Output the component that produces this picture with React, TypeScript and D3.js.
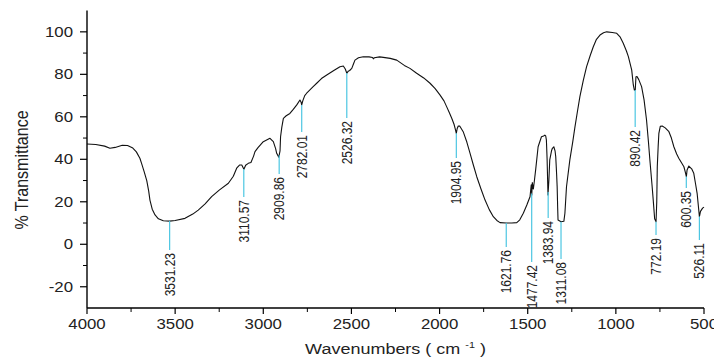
import * as d3 from 'd3';

// FTIR spectrum (wavenumber in cm-1, % transmittance)
const wavenumbers = [
  4000, 3950, 3900, 3870, 3840, 3800, 3770, 3740, 3720, 3700, 3690, 3675, 3661, 3650, 3643, 3630, 3614, 3595, 3567,
  3531, 3500, 3444, 3400, 3369, 3330, 3293, 3250, 3198, 3170, 3151, 3135, 3122, 3110, 3100, 3085, 3070, 3055, 3047,
  3030, 3000, 2962, 2943, 2930, 2924, 2912, 2905, 2902, 2895, 2886, 2870, 2849, 2830, 2810, 2792, 2786, 2782, 2776,
  2765, 2754, 2720, 2697, 2670, 2640, 2600, 2565, 2546, 2535, 2526, 2518, 2510, 2498, 2488, 2480, 2460, 2433, 2400,
  2380, 2376, 2370, 2340, 2319, 2280, 2243, 2200, 2168, 2130, 2090, 2054, 2025, 1998, 1975, 1960, 1945, 1931, 1918,
  1910, 1905, 1900, 1894, 1885, 1866, 1845, 1827, 1808, 1789, 1765, 1742, 1718, 1695, 1675, 1657, 1622, 1590, 1562,
  1545, 1525, 1505, 1487, 1480, 1477, 1474, 1468, 1462, 1455, 1441, 1422, 1410, 1403, 1398, 1394, 1390, 1385, 1380,
  1375, 1365, 1360, 1352, 1345, 1341, 1336, 1333, 1330, 1328, 1311, 1295, 1289, 1280, 1261, 1245, 1232, 1218, 1204,
  1185, 1166, 1145, 1128, 1110, 1090, 1070, 1052, 1020, 995, 975, 958, 940, 929, 910, 901, 895, 890, 886, 880, 870,
  854, 840, 826, 815, 807, 795, 788, 780, 772, 768, 765, 760, 756, 748, 737, 720, 699, 685, 671, 655, 643, 625, 614,
  606, 600, 596, 586, 570, 558, 548, 539, 532, 526, 520, 508, 500,
];
const transmittance = [
  47.2, 47.0, 46.2, 45.2, 45.6, 46.6, 46.5, 45.3, 43.5, 40.5, 38, 34, 30, 25, 20.8, 16.5, 13.8, 12, 11.1,
  10.9, 11.2, 12.2, 14.2, 16.1, 19, 22.4, 25.5, 28.7, 32, 35.8, 37.3, 37.3, 35.3, 37.2, 38.1, 38.5, 41.5, 43.6,
  45.5, 48.3, 49.9, 48.3, 45, 42.8, 41, 44, 50.6, 55, 59.3, 60.5, 61.6, 63.5, 65.6, 67.9, 67, 65.6, 67.5,
  70, 71.1, 74, 75.8, 78, 79.7, 81.8, 83.6, 83.9, 82.5, 80.5, 81.5, 81.8, 82.8, 85, 86.7, 87.8, 88.3, 88.2,
  87.9, 87.3, 87.8, 88.2, 88.0, 87.5, 86.7, 84.2, 82.8, 80.5, 78.3, 75.8, 73.3, 70.3, 67.5, 64.8, 62, 59.3, 56.5,
  54, 52.2, 54.5, 55.7, 55.6, 53, 48, 42.8, 37.2, 31.8, 26, 20.8, 16.3, 13, 11.2, 10.2, 10, 10, 10.2,
  11.5, 14.6, 18.5, 22.4, 28, 23.2, 29, 26, 30, 35, 45.9, 50.6, 51, 51.4, 51, 49, 40, 23.2, 30,
  39.7, 44, 45.2, 45.9, 44, 41.2, 33, 27.1, 17, 11.4, 10.6, 10.8, 14.6, 27.1, 39.7, 48, 55.3, 62.5, 69.5,
  77, 83.6, 89, 93, 96.5, 98.5, 99.6, 100, 99.7, 99.3, 97.5, 94.6, 91, 88.3, 82, 75, 72.5, 72.6, 78.9, 79, 77.5,
  74.2, 68, 58.5, 48, 39.7, 28, 20.8, 12, 10.6, 20, 36.5, 46, 52.2, 55.5, 55.7, 54.8, 53, 50, 45.9, 42.5, 40.5, 38, 36.5,
  34, 31.8, 35, 36.8, 35.5, 33.4, 28.5, 24, 18, 13, 15.5, 17, 17.5,
];

const peakLabels = [
  '3531.23', '3110.57', '2909.86', '2782.01', '2526.32', '1904.95', '1621.76',
  '1477.42', '1383.94', '1311.08', '890.42', '772.19', '600.35', '526.11',
];
// where each cyan leader stops (px), label starts just below
const leaderEnd = [250, 197, 174, 132, 118, 158, 247, 262, 218, 259, 127, 235, 188, 240];

const xTicks = [4000, 3500, 3000, 2500, 2000, 1500, 1000, 500];
const xMinor = [3750, 3250, 2750, 2250, 1750, 1250, 750];
const yTicks = [-20, 0, 20, 40, 60, 80, 100];
const yMinor = [-10, 10, 30, 50, 70, 90];

const FONT = '"Liberation Sans", Arial, Helvetica, sans-serif';
const STRETCH = 1.2; // the source picture is wider than tall
const CYAN = '#4cc6e2';

function valueAt(w: number) {
  for (let i = 0; i < wavenumbers.length - 1; i++) {
    const a = wavenumbers[i], b = wavenumbers[i + 1];
    if (w <= a && w >= b) {
      const t = (a - w) / (a - b);
      return transmittance[i] + t * (transmittance[i + 1] - transmittance[i]);
    }
  }
  return transmittance[transmittance.length - 1];
}

export default function App() {
  const x = d3.scaleLinear().domain([4000, 500]).range([87, 704]);
  const y = d3.scaleLinear().domain([-30, 110]).range([308, 10.6]);

  const line = d3.line<number>()
    .x((_, i) => x(wavenumbers[i]))
    .y((d) => y(d));

  const x0 = x.range()[0], x1 = x.range()[1];
  const y0 = y.range()[0], y1 = y.range()[1];

  return (
    <svg width={714} height={361} style={{ position: 'absolute', left: 0, top: 0, background: '#fff' }}
      fontFamily={FONT}>
      {/* spectrum */}
      <path d={line(transmittance) || ''} fill="none" stroke="#111" strokeWidth={1.1} strokeLinejoin="round" />

      {/* peak leaders and labels */}
      {peakLabels.map((lab, i) => {
        const w = +lab;
        const px = x(w);
        const top = y(valueAt(w));
        return (
          <g key={lab}>
            <line x1={px} x2={px} y1={top} y2={leaderEnd[i]} stroke={CYAN} strokeWidth={1.2} />
            <text transform={`translate(${px},${leaderEnd[i] + 3}) rotate(-90) scale(1,${STRETCH})`}
              textAnchor="end" dy="0.35em" fontSize={12} fill="#222">{lab}</text>
          </g>
        );
      })}

      {/* axes */}
      <line x1={x0} x2={x0} y1={y1} y2={y0} stroke="#000" strokeWidth={1.4} />
      <line x1={x0} x2={x1} y1={y0} y2={y0} stroke="#000" strokeWidth={1.4} />

      {yTicks.map((t) => (
        <g key={'y' + t}>
          <line x1={x0 - 7} x2={x0} y1={y(t)} y2={y(t)} stroke="#000" strokeWidth={1.2} />
          <text transform={`translate(${x0 - 14},${y(t)}) scale(${STRETCH},1)`} textAnchor="end" dy="0.36em"
            fontSize={14} fill="#222">{t}</text>
        </g>
      ))}
      {yMinor.map((t) => (
        <line key={'ym' + t} x1={x0 - 4} x2={x0} y1={y(t)} y2={y(t)} stroke="#000" strokeWidth={1} />
      ))}

      {xTicks.map((t) => (
        <g key={'x' + t}>
          <line x1={x(t)} x2={x(t)} y1={y0} y2={y0 + 6} stroke="#000" strokeWidth={1.2} />
          <text transform={`translate(${x(t)},${y0 + 21}) scale(${STRETCH},1)`} textAnchor="middle"
            fontSize={14} fill="#222">{t}</text>
        </g>
      ))}
      {xMinor.map((t) => (
        <line key={'xm' + t} x1={x(t)} x2={x(t)} y1={y0} y2={y0 + 4} stroke="#000" strokeWidth={1} />
      ))}

      {/* axis titles */}
      <text transform={`translate(${(x0 + x1) / 2},354) scale(${STRETCH},1)`} textAnchor="middle" fontSize={15}
        fill="#222">
        Wavenumbers ( cm <tspan fontSize={9} dy={-6}>-1</tspan><tspan dy={6}> )</tspan>
      </text>
      <text transform={`translate(21,170) rotate(-90) scale(1,${STRETCH})`} textAnchor="middle" dy="0.35em"
        fontSize={16} fill="#222">% Transmittance</text>
    </svg>
  );
}
